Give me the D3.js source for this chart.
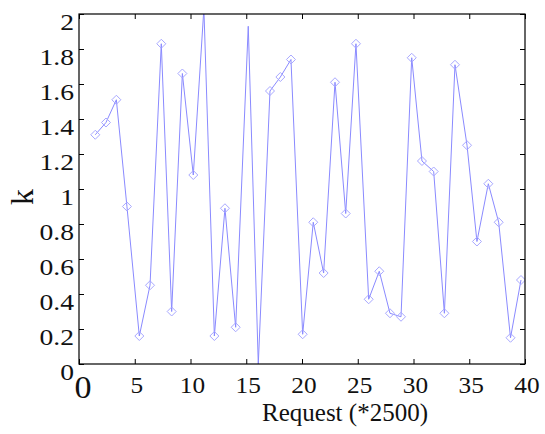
<!DOCTYPE html>
<html>
<head>
<meta charset="utf-8">
<script src="https://cdn.jsdelivr.net/npm/d3@7"></script>
<style>
  body { margin: 0; background: #fff; }
</style>
</head>
<body>
<div id="chart"></div>
<script>
// request index (*2500) and measured k
const requests = [1.46, 2.42, 3.35, 4.30, 5.41, 6.37, 7.38, 8.31, 9.27, 10.25,
  11.2, 12.14, 13.09, 14.05, 15.18, 16.08, 17.13, 18.06, 19.01, 20.06,
  21.01, 21.94, 22.96, 23.92, 24.84, 25.98, 26.93, 27.89, 28.88, 29.84,
  30.76, 31.81, 32.77, 33.72, 34.80, 35.69, 36.71, 37.64, 38.70, 39.64];
const kValues = [1.31, 1.38, 1.51, 0.90, 0.16, 0.45, 1.83, 0.30, 1.66, 1.08,
  2.03, 0.16, 0.89, 0.21, 1.93, 0.0, 1.56, 1.64, 1.74, 0.17,
  0.81, 0.52, 1.61, 0.86, 1.83, 0.37, 0.53, 0.29, 0.27, 1.75,
  1.16, 1.10, 0.29, 1.71, 1.25, 0.70, 1.03, 0.81, 0.15, 0.48];
// points drawn without a marker in the original
const noMarker = [14, 15];
const xTicks = [0, 5, 10, 15, 20, 25, 30, 35, 40];
const yTicks = [0, 0.2, 0.4, 0.6, 0.8, 1, 1.2, 1.4, 1.6, 1.8, 2];

const width = 545, height = 434;
const margin = { top: 14, right: 20, bottom: 70, left: 79 };
const plotW = width - margin.left - margin.right;
const plotH = height - margin.top - margin.bottom;
const serif = '"Liberation Serif", serif';

const svg = d3.select('#chart').append('svg')
  .attr('width', width)
  .attr('height', height);

const x = d3.scaleLinear().domain([0, 40]).range([0, plotW]);
const y = d3.scaleLinear().domain([0, 2]).range([plotH, 0]);

const g = svg.append('g').attr('transform', `translate(${margin.left},${margin.top})`);

svg.append('defs').append('clipPath').attr('id', 'plot-clip')
  .append('rect').attr('width', plotW).attr('height', plotH);

// data line + diamond markers
const data = requests.map((r, i) => ({ r, k: kValues[i], i }));
const plot = g.append('g').attr('clip-path', 'url(#plot-clip)');
plot.append('path')
  .datum(data)
  .attr('fill', 'none')
  .attr('stroke', '#8a8aff')
  .attr('stroke-width', 1)
  .attr('d', d3.line().x((d) => x(d.r)).y((d) => y(d.k)));
plot.selectAll('.marker')
  .data(data.filter((d) => noMarker.indexOf(d.i) < 0))
  .enter().append('path')
  .attr('class', 'marker')
  .attr('fill', 'none')
  .attr('stroke', '#a8a8ff')
  .attr('stroke-width', 1)
  .attr('transform', (d) => `translate(${x(d.r)},${y(d.k)})`)
  .attr('d', 'M0,-4.5L4.5,0L0,4.5L-4.5,0Z');

// axes with inward ticks, on all four sides
const tickLen = 5;
g.append('g')
  .attr('transform', `translate(0,${plotH})`)
  .call(d3.axisBottom(x).tickValues(xTicks).tickSize(-tickLen).tickFormat(''))
  .call((a) => a.select('.domain').remove());
g.append('g')
  .call(d3.axisTop(x).tickValues(xTicks).tickSize(-tickLen).tickFormat(''))
  .call((a) => a.select('.domain').remove());
g.append('g')
  .call(d3.axisLeft(y).tickValues(yTicks).tickSize(-tickLen).tickFormat(''))
  .call((a) => a.select('.domain').remove());
g.append('g')
  .attr('transform', `translate(${plotW},0)`)
  .call(d3.axisRight(y).tickValues(yTicks).tickSize(-tickLen).tickFormat(''))
  .call((a) => a.select('.domain').remove());
g.selectAll('.tick line').attr('stroke', '#000').attr('stroke-width', 1);

g.append('rect')
  .attr('width', plotW)
  .attr('height', plotH)
  .attr('fill', 'none')
  .attr('stroke', '#000')
  .attr('stroke-width', 1.2);

// tick labels
g.selectAll('.ylab')
  .data(yTicks)
  .enter().append('text')
  .attr('class', 'ylab')
  .attr('font-family', serif)
  .attr('fill', '#111')
  .attr('text-anchor', 'end')
  .attr('font-size', 24)
  .attr('transform', (d) => `translate(-5,${y(d) + 16}) scale(1.15,1)`)
  .text((d) => d3.format('~g')(d));

g.selectAll('.xlab')
  .data(xTicks)
  .enter().append('text')
  .attr('class', 'xlab')
  .attr('font-family', serif)
  .attr('fill', '#111')
  .attr('text-anchor', 'middle')
  .attr('font-size', (d) => d === 0 ? 31 : 23)
  .attr('transform', (d) => `translate(${x(d) + (d === 0 ? 4 : 2)},${plotH + (d === 0 ? 34 : 29)}) scale(1.1,1)`)
  .text((d) => d);

// axis titles
svg.append('text')
  .attr('font-family', serif)
  .attr('fill', '#111')
  .attr('text-anchor', 'middle')
  .attr('font-size', 25)
  .attr('x', 345)
  .attr('y', 421)
  .text('Request (*2500)');

svg.append('text')
  .attr('font-family', serif)
  .attr('fill', '#111')
  .attr('text-anchor', 'middle')
  .attr('font-size', 32)
  .attr('transform', 'translate(33,197) rotate(-90)')
  .text('k');
</script>
</body>
</html>
